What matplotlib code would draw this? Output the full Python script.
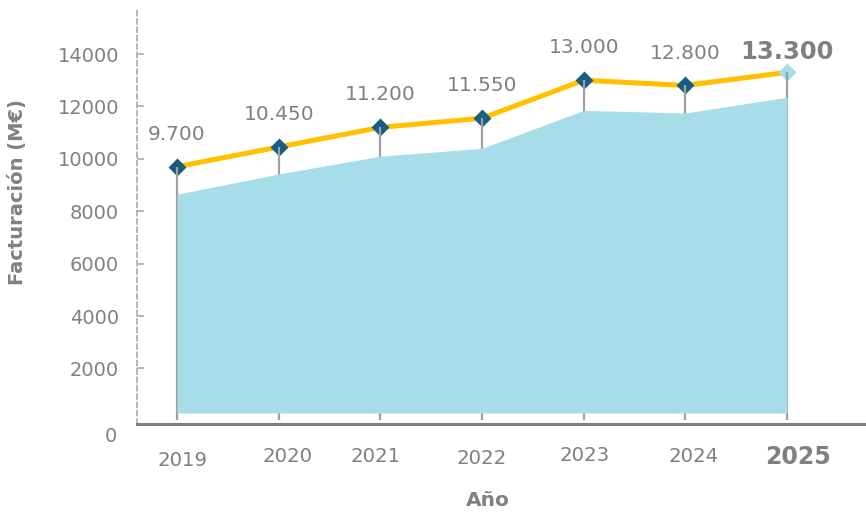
import matplotlib
matplotlib.use("Agg")
import matplotlib.pyplot as plt
from matplotlib.transforms import ScaledTranslation

# ---- data ----
years = [2019, 2020, 2021, 2022, 2023, 2024, 2025]
revenue = [9700, 10450, 11200, 11550, 13000, 12800, 13300]
value_labels = ["9.700", "10.450", "11.200", "11.550", "13.000", "12.800", "13.300"]
area_values = [8650, 9420, 10100, 10400, 11850, 11750, 12350]
area_base = 300
stem_base = 40
y_ticks = [2000, 4000, 6000, 8000, 10000, 12000, 14000]
y_tick_labels = ["2000", "4000", "6000", "8000", "10000", "12000", "14000"]
x_title = "Año"
y_title = "Facturación (M€)"

# ---- style ----
FONT = ["DejaVu Sans"]
GRAY = "#808080"
YELLOW = "#FFC000"
DARK = "#195d80"
LIGHT = "#a6dde9"

plt.rcParams["font.family"] = FONT

fig = plt.figure(figsize=(8.66, 5.13), dpi=100)
ax = fig.add_axes([137 / 866, (513 - 424) / 513, (866 - 137) / 866, 414 / 513])
ax.set_xlim(2018.6066, 2025.777)
ax.set_ylim(-120, 15680)

# line + markers
ax.plot(years, revenue, color=YELLOW, lw=3.6, zorder=1, solid_capstyle="round")
ax.plot(years[:-1], revenue[:-1], ls="none", marker="D", ms=9.6, mfc=DARK, mec="none", zorder=2)
ax.plot(years[-1:], revenue[-1:], ls="none", marker="D", ms=9.6, mfc=LIGHT, mec="none", zorder=2)
# stems
ax.vlines(years, stem_base, revenue, color="#a0a0a0", lw=1.6, zorder=3)
# area
ax.fill_between(years, area_base, area_values, color=LIGHT, lw=0, zorder=4)

# value labels
for i, (x, y, t) in enumerate(zip(years, revenue, value_labels)):
    last = i == len(years) - 1
    ax.annotate(t, (x, y), xytext=(0, 9.4 if last else 19.4), textcoords="offset points",
                ha="center", va="baseline", color=GRAY,
                fontsize=17.5 if last else 14.5, fontweight="bold" if last else "normal",
                zorder=6)

# x tick labels (hand placed jitter like reference)
x_jit = [6, 9, -5, 0, 1, 8, 11]
y_jit = [42, 38, 38, 40, 37, 38, 40]
ax.set_xticks([])
for i, (x, dx, dy) in enumerate(zip(years, x_jit, y_jit)):
    last = i == len(years) - 1
    ax.annotate(str(x), (x, 0), xycoords=("data", "axes fraction"),
                xytext=(dx * 0.72, -dy * 0.72), textcoords="offset points",
                ha="center", va="baseline", color=GRAY,
                fontsize=17 if last else 14.2, fontweight="bold" if last else "normal",
                annotation_clip=False)

# y ticks
ax.set_yticks(y_ticks)
ax.set_yticklabels(y_tick_labels)
ax.tick_params(axis="y", direction="in", length=5, width=1.2, color="#aaaaaa",
               labelsize=14, labelcolor=GRAY, pad=13)
ax.text(0, 0, "0", transform=ax.transAxes + ScaledTranslation(-20 / 100, -18 / 100, fig.dpi_scale_trans),
        ha="right", va="baseline", fontsize=14, color=GRAY)

# spines
for s in ["top", "right"]:
    ax.spines[s].set_visible(False)
ax.spines["left"].set_linestyle((0, (3, 2)))
ax.spines["left"].set_color("#aaaaaa")
ax.spines["left"].set_linewidth(1.2)
ax.spines["bottom"].set_color(GRAY)
ax.spines["bottom"].set_linewidth(2.2)

# axis titles
fig.text(18 / 866, 1 - 192 / 513, y_title, rotation=90, ha="center", va="center",
         fontsize=14, fontweight="bold", color=GRAY)
fig.text(488 / 866, 1 - 500 / 513, x_title, ha="center", va="center",
         fontsize=14.5, fontweight="bold", color=GRAY)

fig.savefig("out.png", dpi=100)
